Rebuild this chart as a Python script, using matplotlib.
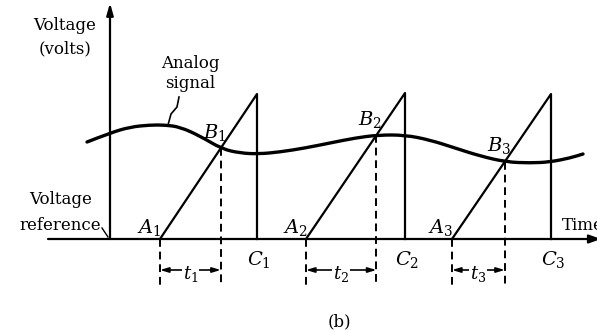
import numpy as np
import matplotlib
matplotlib.use("Agg")
import matplotlib.pyplot as plt
from matplotlib.path import Path
from matplotlib.patches import PathPatch

plt.rcParams['mathtext.fontset'] = 'dejavuserif'
plt.rcParams['font.family'] = ['DejaVu Serif']

# analog signal (time, voltage above the reference)
signal_t = [87, 110, 130, 150, 165, 180, 200, 222, 240, 258, 280, 305,
            330, 355, 378, 405, 430, 455, 480, 506, 530, 550, 570, 583]
signal_v = [97, 106, 112, 114, 114, 112, 103, 90, 86, 85, 87, 91,
            96, 101, 104, 104, 99, 91, 83, 77, 76, 77, 81, 85]

# sawtooth ramps: start (A), reset (C), peak voltage
ramp_start = [160, 306, 452]
ramp_stop = [257, 405, 551]
ramp_peak = [145, 146, 145]

labels_a = ['$A_1$', '$A_2$', '$A_3$']
labels_b = ['$B_1$', '$B_2$', '$B_3$']
labels_c = ['$C_1$', '$C_2$', '$C_3$']
labels_t = ['$t_1$', '$t_2$', '$t_3$']


def crossing(t0, t1, peak):
    # where the ramp meets the analog signal
    tt = np.linspace(t0, t1, 2000)
    ramp = (tt - t0) * peak / (t1 - t0)
    sig = np.interp(tt, signal_t, signal_v)
    i = np.argmax(ramp >= sig)
    return tt[i], ramp[i]


def smooth_path(xs, ys):
    # quadratic bezier through midpoints, read points used as controls
    verts = [(xs[0], ys[0])]
    codes = [Path.MOVETO]
    for k in range(1, len(xs) - 1):
        verts += [(xs[k], ys[k]), ((xs[k] + xs[k + 1]) / 2, (ys[k] + ys[k + 1]) / 2)]
        codes += [Path.CURVE3, Path.CURVE3]
    verts.append((xs[-1], ys[-1]))
    codes.append(Path.LINETO)
    return Path(verts, codes)


fig = plt.figure(figsize=(5.97, 3.32), dpi=100)
ax = fig.add_axes([0, 0, 1, 1])
ax.set_xlim(0, 597)
ax.set_ylim(-93, 239)
ax.axis('off')

lw = 1.6
# axes
ax.annotate('', xy=(601, 0), xytext=(48, 0), annotation_clip=False,
            arrowprops=dict(arrowstyle='-|>,head_length=0.7,head_width=0.25', lw=lw,
                            color='black', shrinkA=0, shrinkB=0))
ax.annotate('', xy=(110, 236), xytext=(110, 0), annotation_clip=False,
            arrowprops=dict(arrowstyle='-|>,head_length=0.7,head_width=0.2', lw=lw,
                            color='black', shrinkA=0, shrinkB=0))

# analog signal
ax.add_patch(PathPatch(smooth_path(signal_t, signal_v), facecolor='none',
                       edgecolor='black', lw=2.4, capstyle='round', joinstyle='round'))

for i in range(3):
    t0, t1, pk = ramp_start[i], ramp_stop[i], ramp_peak[i]
    ax.plot([t0, t1, t1], [0, pk, 0], color='black', lw=lw)
    tb, vb = crossing(t0, t1, pk)
    ax.plot([t0, t0], [0, -46], color='black', lw=1.4, ls=(0, (4, 2.5)))
    ax.plot([tb, tb], [vb, -46], color='black', lw=1.4, ls=(0, (4, 2.5)))
    ax.annotate('', xy=(t0, -31), xytext=(tb, -31),
                arrowprops=dict(arrowstyle='<|-|>,head_length=0.5,head_width=0.15',
                                lw=1.2, color='black', shrinkA=0, shrinkB=0))
    ax.text((t0 + tb) / 2, -35, labels_t[i], fontsize=13, ha='center', va='center',
            bbox=dict(facecolor='white', edgecolor='none', pad=0.5))
    ax.text(t0 - 11, 11, labels_a[i], fontsize=14, ha='center', va='center')
    ax.text(tb - 6, vb + 16, labels_b[i], fontsize=14, ha='center', va='center')
    ax.text(t1 + 2, -20, labels_c[i], fontsize=14, ha='center', va='center')

# annotations
ax.text(65, 213, 'Voltage', fontsize=12, ha='center', va='center')
ax.text(65, 190, '(volts)', fontsize=12, ha='center', va='center')
ax.text(190, 176, 'Analog', fontsize=12, ha='center', va='center')
ax.text(190, 155, 'signal', fontsize=12, ha='center', va='center')
ax.plot([179, 177, 171, 168], [142, 132, 125, 114], color='black', lw=1.2)
ax.text(61, 39, 'Voltage', fontsize=12, ha='center', va='center')
ax.text(60, 14, 'reference', fontsize=12, ha='center', va='center')
ax.plot([102, 108], [11, 2], color='black', lw=1.0)
ax.text(562, 14, 'Time', fontsize=12, ha='left', va='center')
ax.text(339, -83, '(b)', fontsize=12, ha='center', va='center')

fig.savefig('out.png', dpi=100)
